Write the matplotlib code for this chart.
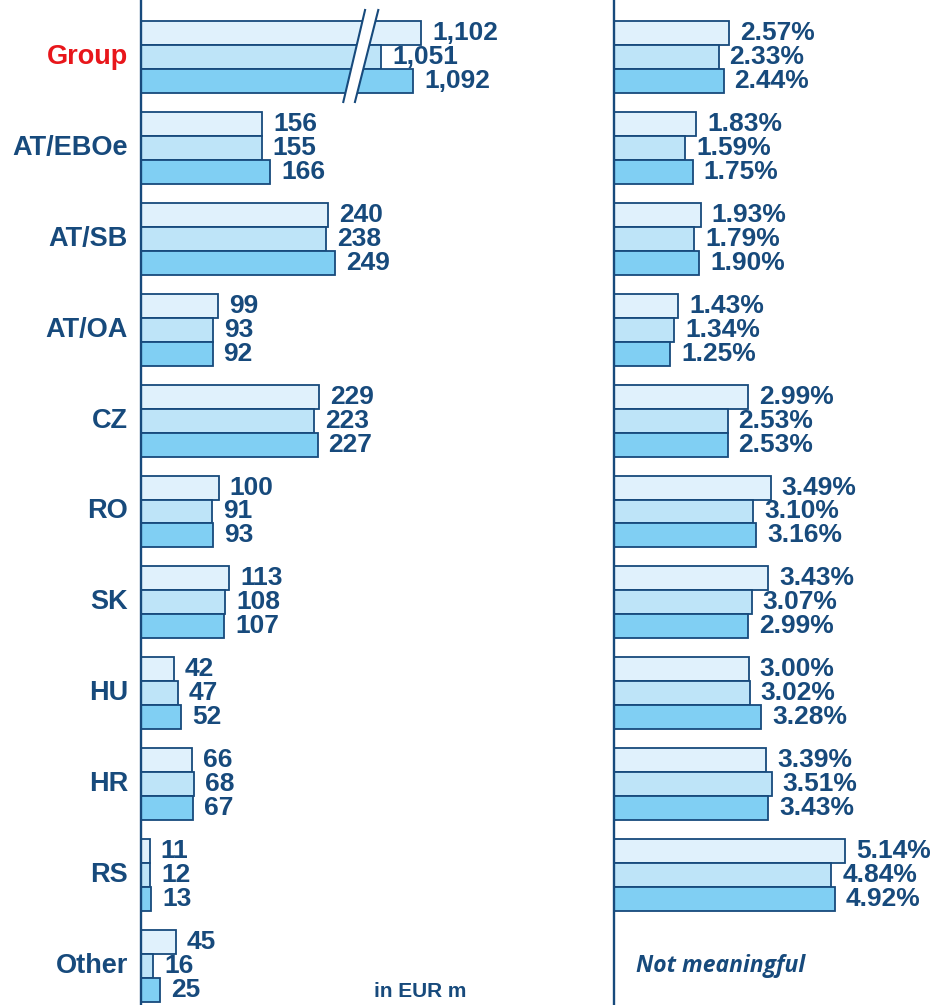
# Loan loss provisions by segment (left, EUR m) and risk cost ratio (right, %)
import matplotlib
matplotlib.use("Agg")
import matplotlib.pyplot as plt
from matplotlib.patches import Polygon
import numpy as np

plt.rcParams['font.family'] = ['Liberation Sans', 'DejaVu Sans']

categories = ["Group", "AT/EBOe", "AT/SB", "AT/OA", "CZ", "RO", "SK", "HU", "HR", "RS", "Other"]

# three periods per segment (top to bottom)
amounts_p1 = [1102, 156, 240, 99, 229, 100, 113, 42, 66, 11, 45]
amounts_p2 = [1051, 155, 238, 93, 223, 91, 108, 47, 68, 12, 16]
amounts_p3 = [1092, 166, 249, 92, 227, 93, 107, 52, 67, 13, 25]

ratio_p1 = [2.57, 1.83, 1.93, 1.43, 2.99, 3.49, 3.43, 3.00, 3.39, 5.14, None]
ratio_p2 = [2.33, 1.59, 1.79, 1.34, 2.53, 3.10, 3.07, 3.02, 3.51, 4.84, None]
ratio_p3 = [2.44, 1.75, 1.90, 1.25, 2.53, 3.16, 2.99, 3.28, 3.43, 4.92, None]

group_cut = 742  # axis break for the Group bars

navy = '#174A7C'
fills = ['#E0F1FC', '#BEE4F8', '#80CFF3']
bar_h = 0.264
offsets = [-bar_h, 0, bar_h]

W, H = 933, 1005
fig = plt.figure(figsize=(W / 100, H / 100), dpi=100)

ax1 = fig.add_axes([141 / W, 0, (600 - 141) / W, 1])
ax2 = fig.add_axes([614 / W, 0, (W - 614) / W, 1])

ymin, ymax = -57 / 90.9, (H - 57) / 90.9
y = np.arange(len(categories))

for ax in (ax1, ax2):
    ax.set_ylim(ymax, ymin)
    for s in ['top', 'right', 'bottom']:
        ax.spines[s].set_visible(False)
    ax.spines['left'].set_color(navy)
    ax.spines['left'].set_linewidth(1.7)
    ax.set_xticks([])
    ax.set_yticks([])
    ax.patch.set_alpha(0)

ax1.set_xlim(0, (600 - 141) / 0.778)
ax2.set_xlim(0, (W - 614) / 44.9)

label_kw = dict(fontsize=19, fontweight='bold', color=navy, va='center')

# left panel: amounts
for k, series in enumerate([amounts_p1, amounts_p2, amounts_p3]):
    shown = [v - group_cut if i == 0 else v for i, v in enumerate(series)]
    ax1.barh(y + offsets[k], shown, height=bar_h, color=fills[k],
             edgecolor=navy, linewidth=1.3, zorder=2)
    for i, (v, s) in enumerate(zip(series, shown)):
        ax1.annotate(f"{v:,}", (s, i + offsets[k]), xytext=(11, 0),
                     textcoords='offset pixels', ha='left', **label_kw)

# axis break on the Group bars
yt, yb = -0.517, 0.495
brk = Polygon([(288, yt), (305, yt), (275, yb), (260, yb)],
              closed=True, facecolor='white', edgecolor='none', zorder=3)
ax1.add_patch(brk)
ax1.plot([288, 260], [yt, yb], color=navy, lw=1.5, zorder=4)
ax1.plot([305, 275], [yt, yb], color=navy, lw=1.5, zorder=4)

# category labels
for i, c in enumerate(categories):
    ax1.annotate(c, (0, i), xytext=(-13, 0), textcoords='offset pixels',
                 ha='right', fontsize=19.5, fontweight='bold', va='center',
                 color='#E8161B' if c == "Group" else navy)

ax1.text((420 - 141) / 0.778, 10.28, "in EUR m", ha='center', va='center',
         fontsize=15, fontweight='bold', color=navy)

# right panel: ratios
for k, series in enumerate([ratio_p1, ratio_p2, ratio_p3]):
    idx = [i for i, v in enumerate(series) if v is not None]
    vals = [series[i] for i in idx]
    ax2.barh(np.array(idx) + offsets[k], vals, height=bar_h, color=fills[k],
             edgecolor=navy, linewidth=1.3, zorder=2)
    for i, v in zip(idx, vals):
        ax2.annotate(f"{v:.2f}%", (v, i + offsets[k]), xytext=(11, 0),
                     textcoords='offset pixels', ha='left', **label_kw)

ax2.annotate("Not meaningful", (0, len(categories) - 1), xytext=(22, 0),
             textcoords='offset pixels', ha='left', va='center',
             fontsize=16.5, fontweight='bold', fontstyle='italic', color=navy,
             family=['Open Sans', 'DejaVu Sans'])

fig.savefig("out.png", dpi=100)
